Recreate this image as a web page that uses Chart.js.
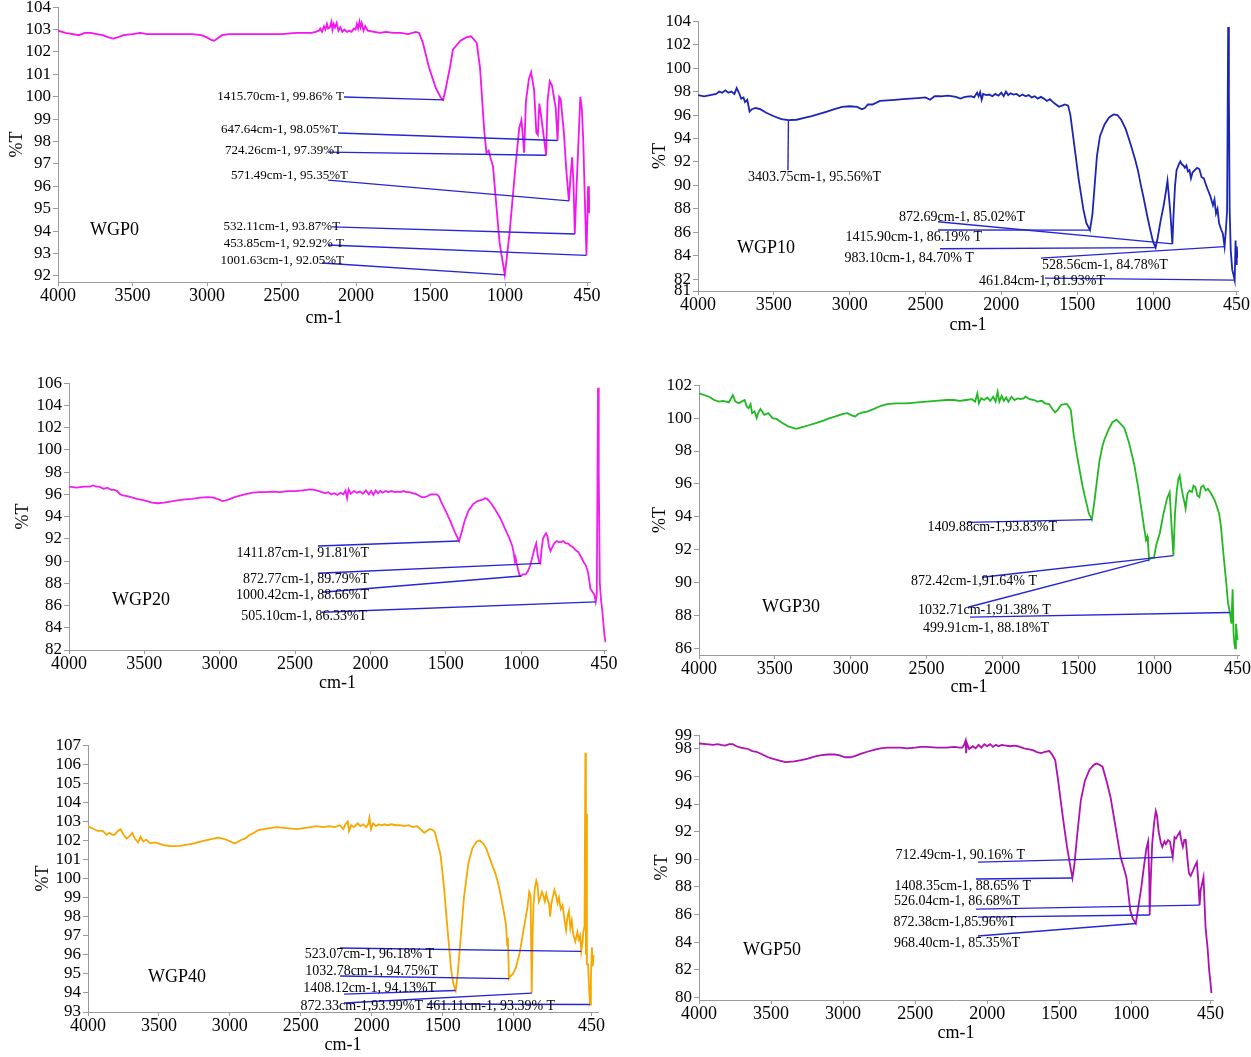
<!DOCTYPE html>
<html><head><meta charset="utf-8">
<script src="https://cdn.jsdelivr.net/npm/chart.js@4.4.1/dist/chart.umd.min.js"></script>
<style>
html,body{margin:0;padding:0;background:#fff;}
#wrap{position:relative;width:1251px;height:1057px;overflow:hidden;background:#fff;}
#wrap canvas{position:absolute;}
</style></head>
<body><div id="wrap"></div>
<script>
// ---------- shared axis ticks ----------
const xTicks = [4000,3500,3000,2500,2000,1500,1000,450];

// ---------- WGP0 ----------
const wgp0_wn = [4000,3950,3900,3860,3820,3780,3740,3700,3660,3630,3600,3560,3500,3450,3400,3300,3200,3100,3040,3000,2975,2953,2930,2900,2850,2800,2700,2600,2500,2400,2300,2270,
 2250,2240,2228,2215,2206,2195,2188,2176,2165,2158,2150,2141,2130,2118,2105,2092,2078,2060,2045,2030,2015,2003,1994,1986,1977,1970,1962,1950,1938,1922,
 1840,1800,1750,1700,1650,1600,1577,1551,1510,1465,1430,1415.7,1400,1370,1350,1300,1260,1230,1221,1190,1168,1140,1125,1110,1095,1081,1054,1037,1025,1001.63,
 970,930,905,890,880,872,860,840,825,805,790,780,770,755,740,724.26,715,700,685,660,647.64,637,627,605,590,571.49,560,550,540,532.11,520,505,495,485,475,465,453.85,448,443,437,433];
const wgp0_t = [102.95,102.85,102.8,102.75,102.85,102.85,102.8,102.75,102.65,102.6,102.65,102.75,102.8,102.85,102.8,102.8,102.8,102.8,102.75,102.65,102.55,102.5,102.6,102.75,102.8,102.8,102.8,102.8,102.8,102.85,102.85,102.9,
 102.95,103.05,102.9,103.15,103.0,103.25,103.05,103.1,103.35,103.0,103.25,103.1,103.3,102.95,103.1,102.9,103.0,102.9,102.95,102.9,103.05,103.0,103.25,103.05,103.35,103.1,103.3,102.95,103.15,102.95,
 102.85,102.9,102.85,102.85,102.8,102.9,102.85,102.4,101.3,100.4,99.95,99.86,100.3,101.3,102.1,102.5,102.65,102.7,102.65,102.4,101.3,98.5,97.5,97.6,97.2,96.9,94.8,93.5,93.0,92.05,
 93.9,96.9,98.6,98.96,98.2,97.5,99.8,100.8,101.1,100.3,98.4,98.3,99.7,99.0,98.2,97.39,99.8,100.7,100.5,99.5,98.05,100.0,99.9,98.4,96.8,95.35,96.5,97.3,96.0,93.87,96.0,98.4,100.0,99.5,98.0,95.5,92.92,94.5,96.0,94.8,95.6];
const wgp0_yTicks = [92,93,94,95,96,97,98,99,100,101,102,103,104];
const wgp0_peaks = [[1415.70,99.86],[647.64,98.05],[724.26,97.39],[571.49,95.35],[532.11,93.87],[453.85,92.92],[1001.63,92.05]];
const wgp0_labels = ["1415.70cm-1, 99.86% T","647.64cm-1, 98.05%T","724.26cm-1, 97.39%T","571.49cm-1, 95.35%T","532.11cm-1, 93.87%T","453.85cm-1, 92.92% T","1001.63cm-1, 92.05%T"];
const wgp0_lineFrom = [[2081,99.99],[2121,98.38],[2188,97.53],[2188,96.28],[2161,94.19],[2188,93.38],[2228,92.58]];
const wgp0_textAt = [[2081,100.03],[2121,98.52],[2094,97.62],[2054,96.5],[2107,94.19],[2081,93.43],[2081,92.67]];

// ---------- WGP10 ----------
const wgp10_wn = [4000,3960,3920,3880,3860,3840,3820,3800,3780,3760,3745,3730,3715,3700,3690,3675,3660,3645,3620,3590,
 3550,3500,3450,3403.75,3350,3300,3250,3200,3150,3100,3050,3000,2950,2920,2900,2880,2850,2800,2750,2700,
 2650,2600,2550,2500,2470,2440,2400,2350,2300,2270,2240,2200,2180,2160,2150,2140,2130,2120,2100,2080,
 2060,2040,2020,2000,1985,1970,1955,1940,1920,1900,1880,1860,1840,1820,1800,1780,1760,1740,1720,1700,
 1680,1660,1640,1620,1600,1580,1560,1545,1520,1490,1460,1440,1415.9,1400,1385,1370,1350,1320,1290,1260,
 1235,1210,1180,1150,1120,1100,1080,1060,1040,1020,1000,983.1,970,950,930,915,905,895,885,872.69,
 865,855,845,830,820,810,800,790,780,770,760,750,740,725,710,695,680,665,650,635,
 620,605,595,585,575,565,550,540,528.56,520,512,505,500,495,488,478,468,461.84,456,452,448,444];
const wgp10_t = [97.7,97.6,97.7,97.8,98.0,97.9,98.1,97.9,98.0,97.8,98.3,97.9,97.4,97.5,97.1,97.3,96.3,96.5,96.6,96.5,
 96.2,95.9,95.65,95.56,95.6,95.75,95.9,96.1,96.3,96.5,96.7,96.75,96.7,96.5,96.6,96.9,96.9,97.2,97.25,97.3,
 97.35,97.4,97.45,97.5,97.3,97.6,97.6,97.65,97.55,97.4,97.55,97.6,97.5,97.9,97.6,97.95,97.3,97.8,97.7,97.75,
 97.6,97.8,97.65,97.9,97.6,98.0,97.7,97.85,97.75,97.8,97.6,97.75,97.6,97.7,97.5,97.6,97.4,97.55,97.4,97.2,
 97.35,97.1,96.9,96.7,96.8,96.9,96.8,96.0,93.5,90.5,88.0,86.8,86.19,87.5,90.0,92.5,94.2,95.2,95.8,96.05,
 96.0,95.6,94.8,93.6,92.3,91.3,90.0,88.8,87.5,86.3,85.2,84.7,85.5,87.0,88.3,89.5,90.4,89.0,87.5,85.02,
 87.5,90.0,91.3,91.8,92.05,91.8,91.7,91.5,91.7,91.2,91.3,90.6,91.1,91.3,91.5,91.4,90.7,90.6,90.0,89.5,
 89.0,88.3,88.8,87.6,88.0,86.8,86.2,85.9,84.78,86.2,87.8,103.5,98.0,88.0,84.5,82.8,82.3,81.93,85.3,83.3,84.8,83.8];
const wgp10_yTicks = [81,82,84,86,88,90,92,94,96,98,100,102,104];
const wgp10_peaks = [[3403.75,95.56],[872.69,85.02],[1415.90,86.19],[983.10,84.70],[528.56,84.78],[461.84,81.93]];
const wgp10_labels = ["3403.75cm-1, 95.56%T","872.69cm-1, 85.02%T","1415.90cm-1, 86.19% T","983.10cm-1, 84.70% T","528.56cm-1, 84.78%T","461.84cm-1, 81.93%T"];
const wgp10_lineFrom = [[3407,91.3],[2418,86.9],[2418,86.2],[2405,84.6],[1739,83.8],[1713,82.1]];
const wgp10_textAt = [[2794,90.7],[1844,87.3],[2128,85.6],[2181,83.8],[902,83.2],[1317,81.8]];

// ---------- WGP20 ----------
const wgp20_wn = [4000,3950,3900,3860,3840,3820,3800,3770,3745,3720,3700,3680,3660,3640,3600,3550,3500,3450,3410,3370,
 3330,3280,3230,3180,3130,3080,3040,3000,2980,2960,2930,2900,2860,2820,2780,2740,2700,2650,2600,2550,
 2500,2450,2400,2370,2330,2300,2280,2260,2240,2220,2200,2180,2165,2155,2145,2130,2110,2090,2070,2050,
 2030,2010,1995,1980,1965,1950,1935,1920,1900,1880,1860,1840,1820,1800,1780,1760,1740,1720,1700,1680,
 1660,1640,1620,1600,1580,1560,1545,1530,1500,1470,1440,1411.87,1395,1375,1350,1320,1290,1260,1240,1225,
 1200,1170,1140,1110,1080,1060,1050,1042,1037,1030,1020,1010,1000.42,990,970,955,940,925,910,900,
 890,880,872.77,865,855,845,835,825,815,805,795,780,765,750,735,720,705,690,675,660,
 640,620,600,585,570,555,540,525,515,505.1,498,490,485,478,470,462,455,447,440];
const wgp20_t = [96.7,96.6,96.7,96.7,96.8,96.7,96.7,96.5,96.6,96.4,96.4,96.3,96.0,95.9,95.8,95.6,95.45,95.25,95.2,95.25,
 95.35,95.45,95.55,95.6,95.7,95.75,95.7,95.5,95.4,95.45,95.6,95.75,95.9,96.05,96.15,96.2,96.2,96.25,96.2,96.3,
 96.3,96.35,96.45,96.4,96.25,96.1,96.2,96.0,96.1,95.95,96.15,96.0,96.35,95.65,96.45,96.05,96.3,96.15,96.25,96.05,
 96.35,96.0,96.3,95.95,96.35,96.1,96.3,96.15,96.3,96.2,96.3,96.2,96.25,96.2,96.3,96.2,96.2,96.1,96.05,95.9,
 95.75,95.75,95.85,96.0,96.0,96.0,95.8,95.3,94.5,93.6,92.6,91.81,92.6,93.6,94.5,95.1,95.4,95.5,95.65,95.6,
 95.2,94.6,93.9,93.0,92.1,91.4,90.8,90.0,90.3,89.8,89.2,88.7,88.66,88.8,88.8,89.1,89.6,90.4,91.2,91.6,
 90.5,89.9,89.79,91.0,92.0,92.3,92.5,92.2,91.3,90.9,91.2,91.6,91.8,91.7,91.7,91.8,91.6,91.6,91.4,91.3,
 91.0,90.8,90.3,89.9,89.6,88.9,87.5,87.2,87.0,86.33,87.0,105.6,98.0,88.0,86.5,85.6,84.5,83.3,82.7];
const wgp20_yTicks = [82,84,86,88,90,92,94,96,98,100,102,104,106];
const wgp20_peaks = [[1411.87,91.81],[872.77,89.79],[1000.42,88.66],[505.10,86.33]];
const wgp20_labels = ["1411.87cm-1, 91.81%T","872.77cm-1, 89.79%T","1000.42cm-1, 88.66%T","505.10cm-1, 86.33%T"];
const wgp20_lineFrom = [[2348,91.35],[2348,88.9],[2321,87.2],[2321,85.4]];
const wgp20_textAt = [[2009,90.7],[2009,88.4],[2009,86.9],[2022,85.0]];

// ---------- WGP30 ----------
const wgp30_wn = [4000,3934,3900,3868,3840,3803,3777,3760,3738,3720,3699,3685,3673,3660,3650,3634,3620,3610,3595,3570,
 3543,3515,3490,3450,3412,3380,3360,3320,3282,3230,3180,3152,3100,3050,3021,2990,2970,2950,2920,2891,
 2850,2800,2760,2700,2630,2560,2500,2440,2369,2320,2280,2239,2200,2180,2165,2155,2140,2120,2100,2080,
 2060,2045,2031,2020,2005,1990,1975,1960,1940,1920,1900,1880,1860,1848,1820,1790,1770,1740,1720,1692,
 1670,1653,1635,1613,1590,1574,1555,1548,1530,1509,1490,1470,1445,1430,1409.88,1395,1379,1360,1340,1327,
 1300,1275,1248,1225,1196,1165,1131,1105,1079,1065,1053,1045,1040,1032.71,1020,1001,985,962,940,915,
 897,885,872.42,862,850,840,831,820,810,800,792,780,766,750,740,727,715,701,690,675,
 660,645,623,600,585,571,560,545,535,524,513,499.91,490,482,476,471,465,460,455,450];
const wgp30_t = [101.5,101.3,101.1,101.0,101.05,100.95,101.4,101.0,100.9,101.0,101.1,100.7,100.6,100.85,100.3,100.4,100.0,100.3,100.55,100.2,
 100.3,100.0,99.95,99.7,99.5,99.4,99.35,99.45,99.55,99.7,99.85,99.95,100.1,100.25,100.3,100.15,100.1,100.25,100.35,100.4,
 100.55,100.75,100.85,100.9,100.9,100.95,101.0,101.05,101.1,101.1,101.05,101.1,101.15,101.0,101.5,100.9,101.2,101.1,101.25,101.05,
 101.3,101.0,101.6,101.0,101.35,101.05,101.25,101.0,101.3,101.1,101.2,101.15,101.2,101.3,101.15,101.1,101.0,101.05,100.9,100.85,
 100.55,100.35,100.5,100.8,100.85,100.85,100.6,100.45,99.0,97.8,96.8,95.8,94.8,94.2,93.83,94.8,96.0,97.4,98.3,98.7,
 99.3,99.75,99.9,99.7,99.4,98.5,97.2,95.8,94.2,93.3,92.6,92.8,92.4,91.38,91.5,91.5,92.3,93.0,94.1,95.1,
 95.5,93.5,91.64,94.2,95.6,96.3,96.5,95.8,95.3,94.9,94.5,95.4,95.6,95.5,95.9,95.8,95.3,95.2,95.8,95.9,
 95.6,95.7,95.4,95.0,94.6,94.2,93.5,92.0,91.0,90.0,88.8,88.18,87.5,89.6,87.0,86.3,86.0,87.5,87.0,86.5];
const wgp30_yTicks = [86,88,90,92,94,96,98,100,102];
const wgp30_peaks = [[1409.88,93.83],[872.42,91.64],[1032.71,91.38],[499.91,88.18]];
const wgp30_labels = ["1409.88cm-1,93.83%T","872.42cm-1,91.64% T","1032.71cm-1,91.38% T","499.91cm-1, 88.18%T"];
const wgp30_lineFrom = [[2227,93.66],[2134,90.33],[2227,88.5],[2214,87.9]];
const wgp30_textAt = [[1640,93.36],[1772,90.08],[1680,88.33],[1693,87.24]];

// ---------- WGP40 ----------
const wgp40_wn = [4000,3960,3930,3896,3870,3850,3830,3813,3790,3771,3750,3729,3710,3687,3670,3646,3630,3610,3590,3560,
 3530,3506,3460,3420,3395,3350,3300,3250,3228,3170,3116,3080,3050,3010,2985,2963,2940,2915,2893,2860,
 2830,2800,2760,2720,2670,2600,2531,2480,2430,2392,2340,2300,2260,2225,2200,2185,2169,2160,2145,2125,
 2100,2080,2060,2040,2025,2016,2005,1990,1970,1950,1930,1910,1890,1860,1830,1800,1770,1740,1710,1680,
 1650,1630,1612,1590,1570,1556,1540,1514,1490,1470,1458,1440,1425,1408.12,1395,1375,1350,1319,1290,1260,
 1240,1215,1194,1160,1130,1110,1085,1070,1054,1045,1040,1032.78,1020,1005,985,957,930,902,890,880,
 872.33,866,860,850,840,832,822,812,800,790,780,770,760,750,742,735,725,712,700,690,
 680,668,655,640,630,620,610,600,590,580,565,550,540,530,523.07,515,508,500,494,490,
 487,483,475,468,461.11,455,448,442,436];
const wgp40_t = [102.75,102.6,102.5,102.5,102.3,102.4,102.3,102.3,102.5,102.6,102.3,102.1,102.2,102.4,102.1,101.9,102.2,101.95,102.05,101.85,
 101.9,101.85,101.75,101.7,101.7,101.72,101.78,101.85,101.9,102.0,102.1,102.15,102.1,102.0,101.9,101.85,101.95,102.05,102.1,102.3,
 102.4,102.55,102.6,102.65,102.7,102.65,102.6,102.65,102.7,102.75,102.7,102.75,102.7,102.8,102.6,102.85,103.0,102.5,102.8,102.7,
 102.9,102.75,102.85,102.7,102.85,103.2,102.6,102.9,102.75,102.85,102.8,102.85,102.8,102.85,102.8,102.8,102.75,102.8,102.7,102.75,
 102.55,102.4,102.5,102.6,102.55,102.45,102.0,101.2,99.5,97.7,96.7,95.2,94.5,94.13,94.9,96.7,99.0,100.8,101.6,101.95,
 102.0,101.85,101.6,100.9,100.3,99.8,98.9,98.3,97.6,96.5,96.9,94.75,94.9,95.0,95.3,96.1,97.3,98.5,99.3,99.1,
 93.99,97.0,98.6,99.5,99.9,99.7,98.8,99.0,99.3,99.1,98.8,99.2,98.9,98.7,98.0,98.6,99.0,99.4,99.1,98.7,
 99.0,98.4,98.6,97.8,97.3,98.0,98.3,97.4,97.8,97.1,96.7,97.2,96.8,97.0,96.18,96.6,97.2,97.5,106.6,96.0,
 103.4,95.5,95.5,94.3,93.39,94.8,96.4,95.4,96.0];
const wgp40_yTicks = [93,94,95,96,97,98,99,100,101,102,103,104,105,106,107];
const wgp40_peaks = [[523.07,96.18],[1032.78,94.75],[1408.12,94.13],[872.33,93.99],[461.11,93.39]];
const wgp40_labels = ["523.07cm-1, 96.18% T","1032.78cm-1, 94.75%T","1408.12cm-1, 94.13%T","872.33cm-1,93.99%T","461.11cm-1, 93.39% T"];
const wgp40_lineFrom = [[2223,96.36],[2223,94.89],[2195,93.94],[2195,93.47],[1609,93.42]];
const wgp40_textAt = [[1560,96.04],[1532,95.15],[1546,94.26],[1638,93.31],[707,93.31]];

// ---------- WGP50 ----------
const wgp50_wn = [4000,3950,3900,3870,3848,3820,3790,3765,3740,3710,3683,3660,3630,3601,3560,3520,3491,3440,3400,3340,
 3290,3244,3200,3150,3106,3060,3030,3000,2983,2950,2914,2880,2832,2780,2740,2695,2640,2600,2557,2500,
 2460,2420,2350,2283,2230,2190,2173,2160,2150,2146,2140,2125,2100,2080,2060,2040,2020,2000,1980,1960,
 1940,1920,1900,1870,1840,1810,1789,1760,1730,1700,1679,1650,1624,1600,1569,1550,1528,1505,1487,1465,
 1446,1425,1408.35,1395,1377,1350,1322,1290,1260,1240,1220,1199,1170,1144,1110,1075,1050,1034,1020,1007,
 990,968.4,952,930,911,895,883,875,872.38,865,855,842,830,822,810,795,785,770,760,745,
 732,712.49,700,690,680,663,652,642,632,622,610,600,588,575,559,545,535,526.04,518,499,
 485,470,460,450,444];
const wgp50_t = [98.4,98.35,98.3,98.35,98.3,98.25,98.35,98.35,98.2,98.1,98.05,98.0,97.85,97.8,97.6,97.4,97.3,97.15,97.05,97.1,
 97.2,97.3,97.45,97.55,97.6,97.6,97.55,97.45,97.4,97.4,97.5,97.65,97.8,97.95,98.05,98.1,98.1,98.1,98.05,98.1,
 98.15,98.15,98.1,98.1,98.15,98.1,98.1,98.3,98.6,97.7,98.4,98.0,98.2,98.05,98.3,98.1,98.35,98.2,98.35,98.15,
 98.3,98.2,98.3,98.25,98.2,98.25,98.2,98.1,98.0,97.95,97.9,97.75,97.7,97.8,97.85,97.6,97.2,95.5,94.0,92.3,
 90.9,89.6,88.65,89.6,91.6,94.3,95.7,96.5,96.85,96.95,96.85,96.7,95.6,94.5,92.4,90.2,89.3,88.7,87.5,86.3,
 85.7,85.35,86.5,88.0,89.6,90.8,91.3,88.5,85.96,88.5,91.1,92.6,93.5,93.2,92.0,91.2,90.9,91.3,91.1,91.4,
 91.3,90.16,91.6,91.5,91.7,92.0,91.3,90.9,91.4,91.4,90.0,89.0,88.8,89.1,89.5,89.8,88.4,86.68,87.8,88.7,
 85.1,83.5,82.0,81.0,80.3];
const wgp50_yTicks = [80,82,84,86,88,90,92,94,96,98,99];
const wgp50_peaks = [[712.49,90.16],[1408.35,88.65],[526.04,86.68],[872.38,85.96],[968.40,85.35]];
const wgp50_labels = ["712.49cm-1, 90.16% T","1408.35cm-1, 88.65% T","526.04cm-1, 86.68%T","872.38cm-1,85.96%T","968.40cm-1, 85.35%T"];
const wgp50_lineFrom = [[2064,89.8],[2078,88.57],[2078,86.39],[2064,85.81],[2064,84.44]];
const wgp50_textAt = [[1738,90.3],[1696,88.06],[1772,86.97],[1800,85.45],[1772,83.93]];

// ---------- panel setup (axis ranges + layout) ----------
const panels = [
 {name:'WGP0',  nameAt:[3785,94.05], wn:wgp0_wn,  t:wgp0_t,  color:'#f414f0', peaks:wgp0_peaks,  labels:wgp0_labels,  lineFrom:wgp0_lineFrom,  textAt:wgp0_textAt,  yTicks:wgp0_yTicks,  xMin:430, yMin:91.73, yMax:104, box:[58,590,7,282],   wy:56, hx:51, labelSize:13},
 {name:'WGP10', nameAt:[3743,84.67], wn:wgp10_wn, t:wgp10_t, color:'#1c26b4', peaks:wgp10_peaks, labels:wgp10_labels, lineFrom:wgp10_lineFrom, textAt:wgp10_textAt, yTicks:wgp10_yTicks, xMin:440, yMin:81,    yMax:104, box:[698,1238,21,291], wy:53, hx:49, labelSize:14},
 {name:'WGP20', nameAt:[3715,86.5],  wn:wgp20_wn, t:wgp20_t, color:'#f01ef0', peaks:wgp20_peaks, labels:wgp20_labels, lineFrom:wgp20_lineFrom, textAt:wgp20_textAt, yTicks:wgp20_yTicks, xMin:437, yMin:82,    yMax:106, box:[69,606,383,650],  wy:61, hx:48, labelSize:14},
 {name:'WGP30', nameAt:[3585,88.5],  wn:wgp30_wn, t:wgp30_t, color:'#22b822', peaks:wgp30_peaks, labels:wgp30_labels, lineFrom:wgp30_lineFrom, textAt:wgp30_textAt, yTicks:wgp30_yTicks, xMin:440, yMin:85.6,  yMax:102, box:[699,1239,385,655],wy:54, hx:47, labelSize:14},
 {name:'WGP40', nameAt:[3577,94.84], wn:wgp40_wn, t:wgp40_t, color:'#f7a800', peaks:wgp40_peaks, labels:wgp40_labels, lineFrom:wgp40_lineFrom, textAt:wgp40_textAt, yTicks:wgp40_yTicks, xMin:405, yMin:93,    yMax:107, box:[88,598,745,1012], wy:60, hx:48, labelSize:14},
 {name:'WGP50', nameAt:[3695,83.4],  wn:wgp50_wn, t:wgp50_t, color:'#b010b0', peaks:wgp50_peaks, labels:wgp50_labels, lineFrom:wgp50_lineFrom, textAt:wgp50_textAt, yTicks:wgp50_yTicks, xMin:433, yMin:79.8,  yMax:99,  box:[699,1213,735,1000],wy:52, hx:48, labelSize:14}
];

const FONT = "'Liberation Serif', 'Times New Roman', serif";
Chart.defaults.font.family = FONT;
Chart.defaults.color = '#000';
const AXIS = '#9a9a9a';
const CONNECTOR = '#2626d6';

function textPlugin(p) {
  return {
    id: 'peakText',
    afterDatasetsDraw(chart) {
      const ctx = chart.ctx, x = chart.scales.x, y = chart.scales.y;
      ctx.save();
      ctx.fillStyle = '#000';
      ctx.textBaseline = 'middle';
      ctx.textAlign = 'right';
      ctx.font = p.labelSize + 'px ' + FONT;
      p.labels.forEach((s, i) => ctx.fillText(s, x.getPixelForValue(p.textAt[i][0]), y.getPixelForValue(p.textAt[i][1])));
      ctx.textAlign = 'left';
      ctx.font = '18px ' + FONT;
      ctx.fillText(p.name, x.getPixelForValue(p.nameAt[0]), y.getPixelForValue(p.nameAt[1]));
      ctx.restore();
    }
  };
}

const wrap = document.getElementById('wrap');
panels.forEach(p => {
  const [ax, ar, at, ab] = p.box;
  const padTop = 12, padRight = 18;
  const left = ax - p.wy, top = at - padTop;
  const w = ar + padRight - left, h = ab + p.hx - top;
  const c = document.createElement('canvas');
  c.width = w; c.height = h;
  c.style.left = left + 'px'; c.style.top = top + 'px';
  c.style.width = w + 'px'; c.style.height = h + 'px';
  wrap.appendChild(c);

  const datasets = [{
    data: p.wn.map((v, i) => ({x: v, y: p.t[i]})),
    borderColor: p.color, borderWidth: 1.8, pointRadius: 0, tension: 0, order: 2
  }];
  p.peaks.forEach((pk, i) => datasets.push({
    data: [{x: p.lineFrom[i][0], y: p.lineFrom[i][1]}, {x: pk[0], y: pk[1]}],
    borderColor: CONNECTOR, borderWidth: 1.4, pointRadius: 0, order: 1
  }));

  new Chart(c, {
    type: 'line',
    data: {datasets},
    plugins: [textPlugin(p)],
    options: {
      responsive: false, animation: false, devicePixelRatio: 1, events: [],
      layout: {padding: {top: padTop, right: padRight, left: 0, bottom: 0}},
      plugins: {legend: {display: false}, tooltip: {enabled: false}},
      scales: {
        x: {
          type: 'linear', reverse: true, min: p.xMin, max: 4000, bounds: 'data',
          afterBuildTicks: s => { s.ticks = xTicks.map(v => ({value: v})); },
          afterFit: s => { s.height = p.hx; },
          ticks: {autoSkip: false, maxRotation: 0, padding: -1, color: '#000', font: {size: 18}, callback: v => String(v)},
          grid: {drawOnChartArea: false, tickLength: 4, color: AXIS},
          border: {color: AXIS},
          title: {display: true, text: 'cm-1', color: '#000', font: {size: 18}, padding: {top: 0, bottom: 4}}
        },
        y: {
          type: 'linear', min: p.yMin, max: p.yMax, bounds: 'data',
          afterBuildTicks: s => { s.ticks = p.yTicks.map(v => ({value: v})); },
          afterFit: s => { s.width = p.wy; },
          ticks: {autoSkip: false, padding: 2, color: '#000', font: {size: 17}, callback: v => String(v)},
          grid: {drawOnChartArea: false, tickLength: 5, color: AXIS},
          border: {color: AXIS},
          title: {display: true, text: '%T', color: '#000', font: {size: 18}, padding: {top: 4, bottom: 0}}
        }
      }
    }
  });
});
</script>
</body></html>
